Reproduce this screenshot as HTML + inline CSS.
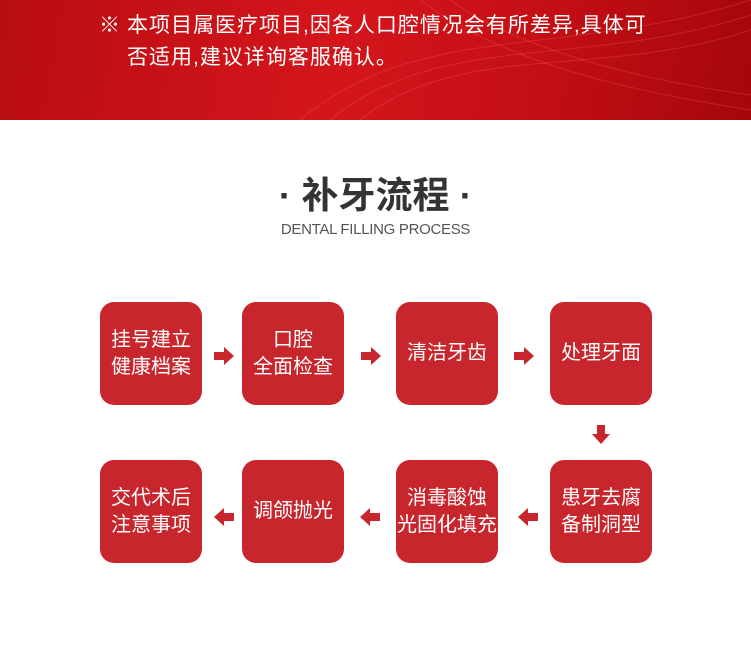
<!DOCTYPE html>
<html><head><meta charset="utf-8"><style>
body{margin:0;width:751px;height:646px;overflow:hidden;background:#fff;font-family:"Liberation Sans","Noto Sans CJK SC",sans-serif;position:relative}
.hd{position:absolute;left:0;top:0;width:751px;height:120px;background:linear-gradient(100deg,#b80d12 0%,#d4161c 45%,#c50f15 70%,#a5070b 100%);overflow:hidden}
.hd p{position:absolute;left:99px;top:10px;margin:0;color:#fff;font-size:21px;line-height:32px;letter-spacing:1px}
.b{position:absolute;width:102px;height:103px;background:#c8262d;border-radius:14px;color:#fff;font-size:20px;line-height:27px;display:flex;align-items:center;justify-content:center;text-align:center}
</style></head><body>
<div class="hd"><svg width="751" height="120" style="position:absolute;left:0;top:0" fill="none" stroke="rgba(255,120,120,0.25)" stroke-width="1">
<path d="M300 120 C420 20 560 60 751 0"/><path d="M330 120 C440 30 580 70 751 15"/><path d="M360 120 C460 40 600 80 751 30"/><path d="M420 0 C500 60 620 90 751 110"/><path d="M450 0 C520 50 640 80 751 95"/></svg>
<p><span style="margin-right:6px">※</span>本项目属医疗项目,因各人口腔情况会有所差异,具体可<br><span style="padding-left:28px">否适用,建议详询客服确认。</span></p></div>
<div style="position:absolute;left:0;top:171px;width:751px;text-align:center;font-size:37px;font-weight:bold;color:#333;line-height:50px">· 补牙流程 ·</div>
<div style="position:absolute;left:0;top:221px;width:751px;text-align:center;font-size:15px;color:#555;letter-spacing:-0.3px">DENTAL FILLING PROCESS</div>
<div class="b" style="left:100px;top:302px">挂号建立<br>健康档案</div>
<div class="b" style="left:242px;top:302px">口腔<br>全面检查</div>
<div class="b" style="left:396px;top:302px">清洁牙齿</div>
<div class="b" style="left:550px;top:302px">处理牙面</div>
<div class="b" style="left:100px;top:460px">交代术后<br>注意事项</div>
<div class="b" style="left:242px;top:460px">调颌抛光</div>
<div class="b" style="left:396px;top:460px">消毒酸蚀<br>光固化填充</div>
<div class="b" style="left:550px;top:460px">患牙去腐<br>备制洞型</div>
<svg width="751" height="646" style="position:absolute;left:0;top:0" fill="#c8262d">
<polygon points="214,352 224,352 224,347 234,356 224,365 224,360 214,360"/>
<polygon points="361,352 371,352 371,347 381,356 371,365 371,360 361,360"/>
<polygon points="514,352 524,352 524,347 534,356 524,365 524,360 514,360"/>
<polygon points="597,425 605,425 605,434 610,434 601,444 592,434 597,434"/>
<polygon points="538,513 528,513 528,508 518,517 528,526 528,521 538,521"/>
<polygon points="380,513 370,513 370,508 360,517 370,526 370,521 380,521"/>
<polygon points="234,513 224,513 224,508 214,517 224,526 224,521 234,521"/>
</svg>
</body></html>
